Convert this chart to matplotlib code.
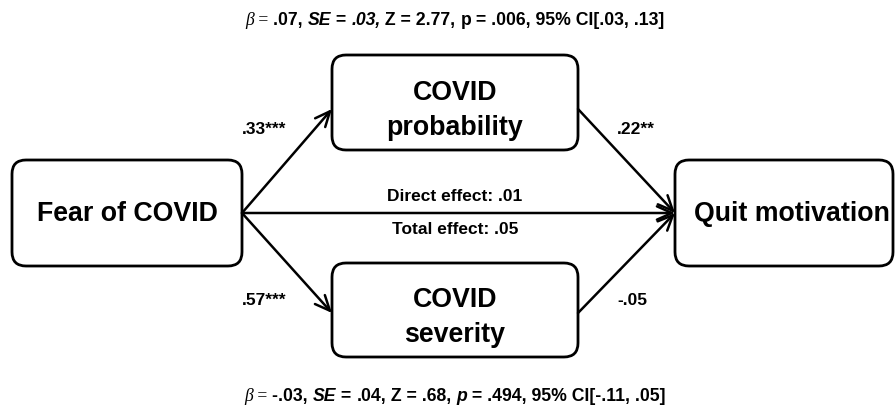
import matplotlib
matplotlib.use("Agg")
import matplotlib.pyplot as plt
from matplotlib.patches import FancyBboxPatch, FancyArrowPatch

# Node labels and path coefficients
node_names = ["Fear of COVID", "COVID\nprobability", "COVID\nseverity", "Quit motivation"]
a_paths = [".33***", ".57***"]          # X -> mediators
b_paths = [".22**", "-.05"]             # mediators -> Y
direct_effect = ".01"
total_effect = ".05"

# Indirect effect statistics (top: probability, bottom: severity)
beta_vals = [".07", "-.03"]
se_vals = [".03", ".04"]
z_vals = ["2.77", ".68"]
p_vals = [".006", ".494"]
ci_vals = ["[.03, .13]", "[-.11, .05]"]
p_italic = [False, True]

W, H = 896, 411
fig = plt.figure(figsize=(W / 100, H / 100), dpi=100)
ax = fig.add_axes([0, 0, 1, 1])
ax.set_xlim(0, W)
ax.set_ylim(H, 0)
ax.axis("off")

SANS = "Liberation Sans"
SERIF = "Liberation Serif"

# boxes: (left, top, width, height)
boxes = {
    0: (12, 160, 230, 106),
    1: (332, 55, 246, 95),
    2: (332, 263, 246, 94),
    3: (675, 160, 218, 106),
}
text_pos = {0: (127, 214), 1: (455, 110), 2: (455, 317), 3: (792, 214)}

for i, (l, t, w, h) in boxes.items():
    ax.add_patch(FancyBboxPatch((l + 14, t + 14), w - 28, h - 28,
                                boxstyle="round,pad=14,rounding_size=14",
                                fc="white", ec="black", lw=2))
    ax.text(*text_pos[i], node_names[i], ha="center", va="center",
            fontsize=19.3, fontweight="bold", family=SANS, linespacing=1.45)


def arrow(p0, p1):
    ax.add_patch(FancyArrowPatch(p0, p1, arrowstyle="->,head_length=0.9,head_width=0.4",
                                 mutation_scale=12, lw=1.8, color="black",
                                 shrinkA=0, shrinkB=0))


mid_y = 213
arrow((242, mid_y), (332, 109))
arrow((242, mid_y), (332, 313))
arrow((578, 109), (675, mid_y))
arrow((578, 313), (675, mid_y))
arrow((242, mid_y), (675, mid_y))

lab = dict(fontsize=12.5, fontweight="bold", family=SANS, va="center", ha="left")
ax.text(242, 129, a_paths[0], **lab)
ax.text(242, 300, a_paths[1], **lab)
ax.text(617, 129, b_paths[0], **lab)
ax.text(617, 300, b_paths[1], **lab)

ax.text(455, 196, "Direct effect: " + direct_effect, ha="center", va="center",
        fontsize=12.5, fontweight="bold", family=SANS)
ax.text(455, 229, "Total effect: " + total_effect, ha="center", va="center",
        fontsize=12.5, fontweight="bold", family=SANS)


def rich_line(y, pieces, cx=455, fs=12.7):
    fig.canvas.draw()
    r = fig.canvas.get_renderer()
    objs = []
    for s, fam, wt, st in pieces:
        objs.append(ax.text(0, y, s, family=fam, fontweight=wt, style=st,
                            fontsize=fs, va="baseline", ha="left"))
    widths = []
    for o in objs:
        bb = o.get_window_extent(r)
        widths.append(bb.width)
    total = sum(widths)
    x = cx - total / 2
    for o, w in zip(objs, widths):
        o.set_x(x)
        x += w


for k, y in enumerate([25, 401]):
    pieces = [
        ("\u03b2", SERIF, "normal", "italic"),
        (" = ", SERIF, "normal", "normal"),
        (beta_vals[k] + ", ", SANS, "bold", "normal"),
        ("SE", SANS, "bold", "italic"),
        (" = ", SANS, "bold", "normal"),
        (se_vals[k] + ",", SANS, "bold", "italic" if k == 0 else "normal"),
        (" Z = " + z_vals[k] + ", ", SANS, "bold", "normal"),
        ("p", SANS, "bold", "italic" if p_italic[k] else "normal"),
        (" = " + p_vals[k] + ", 95% CI" + ci_vals[k], SANS, "bold", "normal"),
    ]
    rich_line(y, pieces)

fig.savefig("out.png", dpi=100)
